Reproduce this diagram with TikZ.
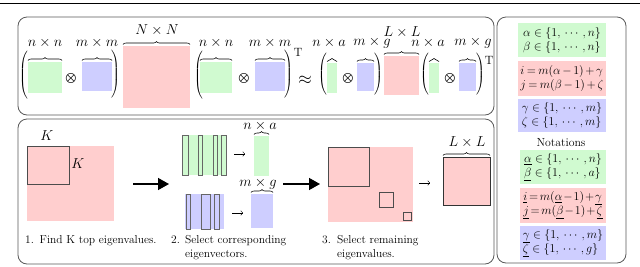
\documentclass[tikz,border=0pt]{standalone}
\usetikzlibrary{arrows.meta,decorations.pathreplacing}
\definecolor{gfill}{RGB}{208,250,208}
\definecolor{bfill}{RGB}{206,206,255}
\definecolor{rfill}{RGB}{255,206,206}
\newcommand\notaspacing{\medmuskip=2.5mu\relax\thickmuskip=3.5mu\relax}
\newcommand\notaspacingb{\medmuskip=1.5mu\relax\thickmuskip=2.5mu\relax}
\begin{document}
\begin{tikzpicture}[x=1pt,y=-1pt,
  frame/.style={draw=black!65, line width=0.8pt, rounded corners=9pt, inner sep=0pt, outer sep=0pt, anchor=north west},
  gb/.style={fill=gfill, draw=none, inner sep=0pt, outer sep=0pt, anchor=north west},
  bb/.style={fill=bfill, draw=none, inner sep=0pt, outer sep=0pt, anchor=north west},
  rb/.style={fill=rfill, draw=none, inner sep=0pt, outer sep=0pt, anchor=north west},
  outl/.style={draw=black!70, line width=0.7pt, inner sep=0pt, outer sep=0pt, anchor=north west},
  barg/.style={draw=black!60, fill=gfill, line width=0.45pt, inner sep=0pt, outer sep=0pt, anchor=north west},
  barb/.style={draw=black!60, fill=bfill, line width=0.45pt, inner sep=0pt, outer sep=0pt, anchor=north west},
  brc/.style={decorate, decoration={brace, amplitude=3pt}, line width=0.6pt},
  lab/.style={inner sep=0pt, font=\fontsize{14.5}{16}\selectfont},
  parn/.style={inner sep=0pt, font=\fontsize{13}{15}\selectfont},
  opsym/.style={inner sep=0pt, font=\fontsize{13.5}{15}\selectfont},
  captxt/.style={inner sep=0pt, font=\fontsize{11.5}{13.5}\selectfont, anchor=base west},
  nota/.style={inner sep=0pt, outer sep=0pt, anchor=north west, align=left, font=\fontsize{12.5}{14}\selectfont},
  bigarrow/.style={-{Triangle[length=11pt,width=12pt]}, line width=1.4pt},
  smallarrow/.style={-{To[length=2.5pt,width=5pt]}, line width=0.45pt},
]
\useasboundingbox (0,0) rectangle (640,266);
% top rule
\draw[line width=1.5pt] (0,3.5) -- (640,3.5);
% frames
\node[frame, minimum width=476pt, minimum height=98pt] (topframe) at (18,17) {};
\node[frame, minimum width=476pt, minimum height=145pt] (botframe) at (18,119) {};
\node[frame, minimum width=129pt, minimum height=246pt] (notframe) at (497,17) {};

% ===== top equation =====
\node[parn] (lp1) at (24,76) {$\left(\vrule height 23pt depth 23pt width 0pt\right.$};
\node[gb, minimum width=34pt, minimum height=31pt] (g1) at (28,62) {};
\node[opsym] (o1) at (71,78) {$\bigotimes$};
\node[bb, minimum width=30pt, minimum height=29pt] (b1) at (82,62) {};
\node[parn] (rp1) at (115,75) {$\left.\vrule height 23pt depth 23pt width 0pt\right)$};
\node[rb, minimum width=67pt, minimum height=62pt] (r1) at (123,46) {};
\node[parn] (lp2) at (199,76) {$\left(\vrule height 23pt depth 23pt width 0pt\right.$};
\node[gb, minimum width=32pt, minimum height=31pt] (g2) at (200,62) {};
\node[opsym] (o2) at (244,78) {$\bigotimes$};
\node[bb, minimum width=30pt, minimum height=29pt] (b2) at (255,62) {};
\node[parn] (rp2) at (288,75) {$\left.\vrule height 23pt depth 23pt width 0pt\right)$};
\node[parn] (t1) at (298,52) {$\mathrm{T}$};
\node[inner sep=0pt, font=\fontsize{17}{18}\selectfont] (approx) at (305,80) {$\approx$};
\node[parn] (lp3) at (323,74) {$\left(\vrule height 18pt depth 18pt width 0pt\right.$};
\node[gb, minimum width=10pt, minimum height=30pt] (g3) at (327,63) {};
\node[opsym] (o3) at (348,78) {$\bigotimes$};
\node[bb, minimum width=17pt, minimum height=28pt] (b3) at (357,63) {};
\node[parn] (rp3) at (378,74) {$\left.\vrule height 18pt depth 18pt width 0pt\right)$};
\node[rb, minimum width=35pt, minimum height=39pt] (r3) at (384,56) {};
\node[parn] (lp4) at (425,74) {$\left(\vrule height 18pt depth 18pt width 0pt\right.$};
\node[gb, minimum width=10pt, minimum height=30pt] (g4) at (429,63) {};
\node[opsym] (o4) at (450,78) {$\bigotimes$};
\node[bb, minimum width=17pt, minimum height=28pt] (b4) at (459,63) {};
\node[parn] (rp4) at (480,74) {$\left.\vrule height 18pt depth 18pt width 0pt\right)$};
\node[parn] (t2) at (489,60) {$\mathrm{T}$};
% braces and labels
\foreach \n in {g1,b1,r1,g2,b2,g3,b3,r3,g4,b4}
  \draw[brc] ([yshift=1.5pt]\n.north west) -- ([yshift=1.5pt]\n.north east);
\node[lab] (lg1) at (45,43) {$n\times n$};
\node[lab] (lb1) at (97,43) {$m\times m$};
\node[lab] (lr1) at (157,30) {$N\times N$};
\node[lab] (lg2) at (216,43) {$n\times n$};
\node[lab] (lb2) at (270,43) {$m\times m$};
\node[lab] (lg3) at (329,43) {$n\times a$};
\node[lab] (lb3) at (372,43) {$m\times g$};
\node[lab] (lr3) at (402,32) {$L\times L$};
\node[lab] (lg4) at (428,43) {$n\times a$};
\node[lab] (lb4) at (473,43) {$m\times g$};

% ===== bottom panel =====
\node[rb, minimum width=87pt, minimum height=75pt] (R1) at (27,146) {};
\node[outl, minimum width=42pt, minimum height=38pt] (K1) at (27,146) {};
\node[lab] (Ktop) at (47,136) {$K$};
\node[lab] (Kright) at (78,164) {$K$};
\coordinate (a1s) at (133,184);
\coordinate (a1e) at (169,184);
\draw[bigarrow] (a1s) -- (a1e);
% green bars
\node[gb, minimum width=45pt, minimum height=40pt] (GA) at (182,135) {};
\node[barg, minimum width=6pt, minimum height=40pt] (gv1) at (182,135) {};
\node[barg, minimum width=4.5pt, minimum height=40pt] (gv2) at (198,135) {};
\node[barg, minimum width=4.5pt, minimum height=40pt] (gv3) at (213,135) {};
\node[barg, minimum width=5pt, minimum height=40pt] (gv4) at (221,135) {};
% blue bars
\node[bb, minimum width=39pt, minimum height=35pt] (BA) at (185,194) {};
\node[barb, minimum width=4.5pt, minimum height=35pt] (bv1) at (186,194) {};
\node[barb, minimum width=9pt, minimum height=35pt] (bv2) at (201,194) {};
\node[barb, minimum width=5pt, minimum height=35pt] (bv3) at (214,194) {};
% small arrows
\coordinate (s1s) at (234,154); \coordinate (s1e) at (245,154);
\coordinate (s2s) at (232,213); \coordinate (s2e) at (243,213);
\draw[smallarrow] (s1s) -- (s1e);
\draw[smallarrow] (s2s) -- (s2e);
% results
\node[gb, minimum width=15pt, minimum height=40pt] (GR) at (254,136) {};
\node[bb, minimum width=22pt, minimum height=34pt] (BR) at (251,194) {};
\draw[brc] ([yshift=1.5pt]GR.north west) -- ([yshift=1.5pt]GR.north east);
\draw[brc] ([yshift=1.5pt]BR.north west) -- ([yshift=1.5pt]BR.north east);
\node[lab] (lGR) at (260,126) {$n\times a$};
\node[lab] (lBR) at (258,184) {$m\times g$};
\coordinate (a2s) at (283,184);
\coordinate (a2e) at (320,184);
\draw[bigarrow] (a2s) -- (a2e);
% second red
\node[rb, minimum width=85pt, minimum height=75pt] (R2) at (328,147) {};
\node[outl, minimum width=41pt, minimum height=39pt] (S1) at (328,147) {};
\node[outl, minimum width=14pt, minimum height=15pt] (S2) at (379,192) {};
\node[outl, minimum width=8pt, minimum height=8pt] (S3) at (403,212) {};
\coordinate (s3s) at (419,183); \coordinate (s3e) at (430,183);
\draw[smallarrow] (s3s) -- (s3e);
\node[rb, draw=black!80, line width=0.6pt, minimum width=47pt, minimum height=48pt] (LL) at (443,157) {};
\draw[brc] ([yshift=1.5pt]LL.north west) -- ([yshift=1.5pt]LL.north east);
\node[lab] (lLL) at (467,142) {$L\times L$};
% captions
\node[captxt] (c1n) at (25,243.5) {1.};
\node[captxt] (c1) at (39.5,243.5) {Find K top eigenvalues.};
\node[captxt] (c2n) at (171,243.5) {2.};
\node[captxt] (c2) at (185,243.5) {\begin{tabular}[t]{@{}l@{}}Select corresponding\\eigenvectors.\end{tabular}};
\node[captxt] (c3n) at (322,243.5) {3.};
\node[captxt] (c3) at (337,243.5) {\begin{tabular}[t]{@{}l@{}}Select remaining\\eigenvalues.\end{tabular}};

% ===== notations =====
\node[nota, fill=gfill, minimum width=88pt, minimum height=34pt] (N1) at (518,23)
  {$\alpha\in\{1,\,\cdots\,,n\}$\\$\beta\in\{1,\,\cdots\,,n\}$};
\node[nota, fill=rfill, minimum width=88pt, minimum height=35pt] (N2) at (518,61)
  {$\notaspacing i=m(\alpha-1)+\gamma$\\$\notaspacing j=m(\beta-1)+\zeta$};
\node[nota, fill=bfill, minimum width=88pt, minimum height=33pt] (N3) at (518,99)
  {$\gamma\in\{1,\,\cdots\,,m\}$\\$\zeta\in\{1,\,\cdots\,,m\}$};
\node[inner sep=0pt, font=\fontsize{11.75}{14}\selectfont] (nt) at (561,143) {Notations};
\node[nota, fill=gfill, minimum width=86pt, minimum height=34pt] (N4) at (520,150)
  {$\underline{\alpha}\in\{1,\,\cdots\,,n\}$\\$\underline{\beta}\in\{1,\,\cdots\,,a\}$};
\node[nota, fill=rfill, minimum width=86pt, minimum height=35pt] (N5) at (520,188)
  {$\notaspacingb \underline{i}=m(\underline{\alpha}-1)+\underline{\gamma}$\\$\notaspacingb \underline{j}=m(\underline{\beta}-1)+\underline{\zeta}$};
\node[nota, fill=bfill, minimum width=86pt, minimum height=34pt] (N6) at (520,226)
  {$\underline{\gamma}\in\{1,\,\cdots\,,m\}$\\$\underline{\zeta}\in\{1,\,\cdots\,,g\}$};
\end{tikzpicture}
\end{document}
